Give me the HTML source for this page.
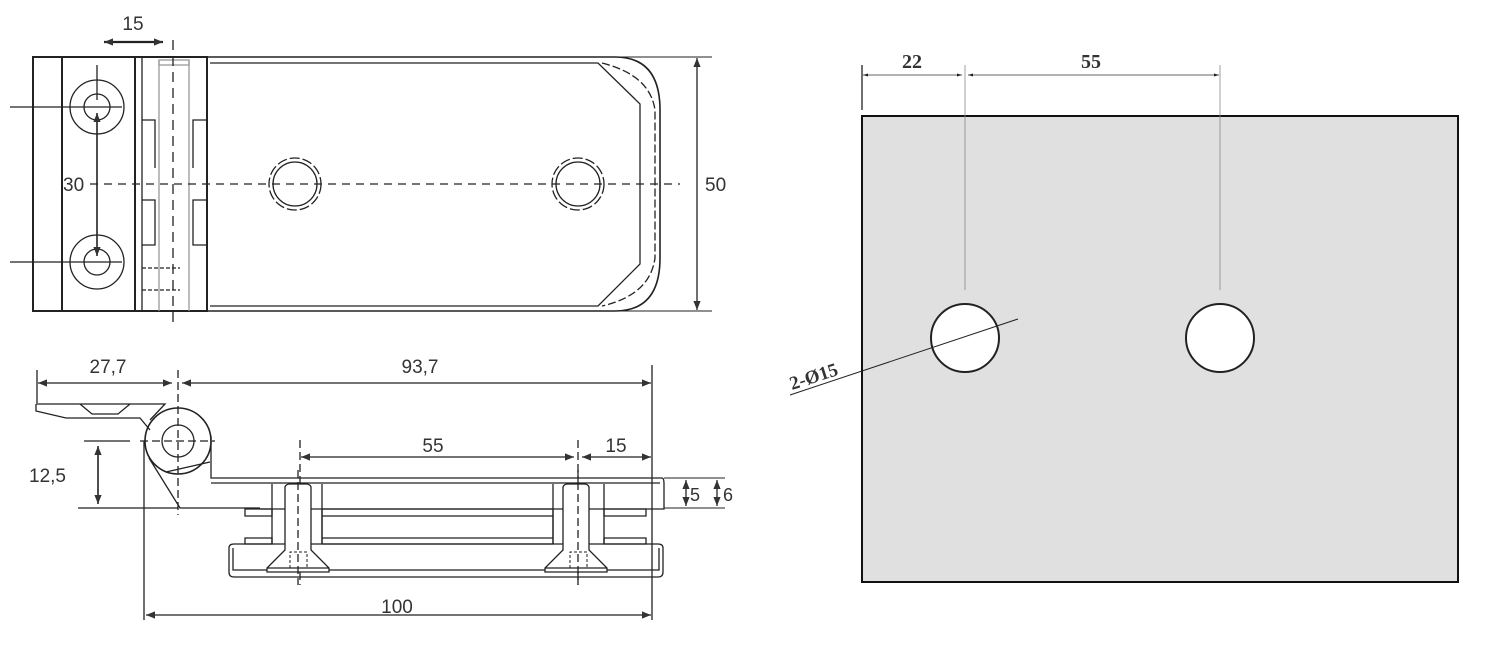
<!DOCTYPE html>
<html><head><meta charset="utf-8"><style>
html,body{margin:0;padding:0;background:#fff;}
svg{display:block;}
text{font-family:"Liberation Sans",sans-serif;fill:#333;}
</style></head><body>
<svg width="1503" height="672" viewBox="0 0 1503 672" xmlns="http://www.w3.org/2000/svg">
<defs>
<marker id="a" viewBox="0 0 10 10" refX="10" refY="5" markerWidth="9" markerHeight="9" orient="auto-start-reverse" markerUnits="userSpaceOnUse"><path d="M0,1 L10,5 L0,9 z" fill="#333"/></marker>
<marker id="s" viewBox="0 0 10 10" refX="10" refY="5" markerWidth="7" markerHeight="5" orient="auto-start-reverse" markerUnits="userSpaceOnUse"><path d="M0,2 L10,5 L0,8 z" fill="#222"/></marker>
</defs>
<g fill="none" stroke="#222" stroke-width="1.3">
<!-- TOP VIEW -->
<rect x="33" y="57" width="174" height="254" stroke-width="2"/>
<line x1="62" y1="57" x2="62" y2="311" stroke-width="2"/>
<line x1="135" y1="57" x2="135" y2="311" stroke-width="2"/>
<line x1="142" y1="57" x2="142" y2="311"/>
<line x1="159" y1="60" x2="159" y2="311" stroke="#999"/>
<line x1="189" y1="60" x2="189" y2="311" stroke="#999"/>
<rect x="159" y="60" width="30" height="5" stroke="#999"/>
<path d="M142,120 H155 V168 M142,200 H155 V245 H142"/>
<path d="M207,120 H193 V168 M207,200 H193 V245 H207"/>
<path d="M142,268 H180 M142,290 H180" stroke-dasharray="4 2"/>
<path d="M207,57 H615 Q660,57 660,110 V258 Q660,311 615,311 H207" stroke-width="1.6"/>
<path d="M210,63 H598 L640,104 V264 L598,306 H210"/>
<path d="M602,63 Q650,75 655,110 V258 Q650,295 602,306" stroke-dasharray="8 3"/>
<circle cx="97" cy="107" r="27"/><circle cx="97" cy="107" r="13"/>
<circle cx="97" cy="262" r="27"/><circle cx="97" cy="262" r="13"/>
<line x1="10" y1="107" x2="122" y2="107"/>
<line x1="10" y1="262" x2="122" y2="262"/>
<line x1="97" y1="65" x2="97" y2="100"/>
<line x1="97" y1="113" x2="97" y2="256" stroke-width="1.6" marker-start="url(#a)" marker-end="url(#a)"/>
<line x1="104" y1="42" x2="163" y2="42" stroke-width="2.2" marker-start="url(#a)" marker-end="url(#a)"/>
<line x1="173" y1="40" x2="173" y2="324" stroke-dasharray="10 6"/>
<line x1="90" y1="184" x2="680" y2="184" stroke-dasharray="8 6"/>
<circle cx="295" cy="184" r="26" stroke-dasharray="10 3"/><circle cx="295" cy="184" r="22"/>
<circle cx="578" cy="184" r="26" stroke-dasharray="10 3"/><circle cx="578" cy="184" r="22"/>
<line x1="620" y1="57" x2="712" y2="57" stroke-width="1"/>
<line x1="620" y1="311" x2="712" y2="311" stroke-width="1"/>
<line x1="697" y1="58" x2="697" y2="310" marker-start="url(#a)" marker-end="url(#a)"/>

<!-- SIDE VIEW -->
<line x1="37" y1="370" x2="37" y2="403"/>
<line x1="652" y1="365" x2="652" y2="620"/>
<line x1="38" y1="383" x2="172" y2="383" marker-start="url(#a)" marker-end="url(#a)"/>
<line x1="182" y1="383" x2="651" y2="383" marker-start="url(#a)" marker-end="url(#a)"/>
<path d="M36,404 H165 L150,420 M36,404 V411 L66,418 H140 L150,430" />
<path d="M80,404 L92,414 H118 L130,404 M92,414 H118"/>
<circle cx="178" cy="441" r="33" stroke-width="1.6"/>
<circle cx="178" cy="441" r="16"/>
<path d="M149,458 L180,508 H260 M211,436 V478 H662 Q664,478 664,484 V509 H260 M166,472 L210,462"/>
<line x1="178" y1="370" x2="178" y2="515" stroke-dasharray="8 4"/>
<line x1="140" y1="441" x2="215" y2="441" stroke-dasharray="8 4"/>
<line x1="211" y1="483" x2="660" y2="483"/>
<line x1="84" y1="441" x2="130" y2="441"/>
<line x1="78" y1="508" x2="178" y2="508"/>
<line x1="98" y1="446" x2="98" y2="504" stroke-width="1.6" marker-start="url(#a)" marker-end="url(#a)"/>
<line x1="144" y1="441" x2="144" y2="620"/>
<line x1="146" y1="615" x2="651" y2="615" marker-start="url(#a)" marker-end="url(#a)"/>
<line x1="300" y1="440" x2="300" y2="585" stroke-dasharray="8 4"/>
<line x1="578" y1="440" x2="578" y2="585" stroke-dasharray="8 4"/>
<line x1="301" y1="457" x2="574" y2="457" marker-start="url(#a)" marker-end="url(#a)"/>
<line x1="582" y1="457" x2="651" y2="457" marker-start="url(#a)" marker-end="url(#a)"/>
<line x1="664" y1="478" x2="725" y2="478" stroke-width="1"/>
<line x1="664" y1="508" x2="725" y2="508" stroke-width="1"/>
<line x1="686" y1="480" x2="686" y2="506" marker-start="url(#a)" marker-end="url(#a)"/>
<line x1="717" y1="480" x2="717" y2="506" marker-start="url(#a)" marker-end="url(#a)"/>
<!-- bars -->
<path d="M245,509 H272 V516 H245 z M245,538 H272 V544 H245 z"/>
<path d="M604,509 H646 V516 H604 z M604,538 H646 V544 H604 z"/>
<path d="M322,509 H553 M322,516 H553 M322,538 H553 M322,544 H553 M322,509 V544 M553,509 V544"/>
<path d="M272,484 V544 M322,484 V544 M553,484 V544 M604,484 V544"/>
<path d="M229,548 Q229,544 234,544 H658 Q663,544 663,548 V572 Q663,577 658,577 H234 Q229,577 229,572 z"/>
<path d="M233,548 V570 H659 V548"/>
<!-- screws -->
<path d="M285,487 Q286,484 290,484 H306 Q310,484 311,487 V550 L329,568 V572 H267 V568 L285,550 z" fill="#fff"/>
<line x1="267" y1="568" x2="329" y2="568"/>
<path d="M563,487 Q564,484 568,484 H584 Q588,484 589,487 V550 L607,568 V572 H545 V568 L563,550 z" fill="#fff"/>
<line x1="545" y1="568" x2="607" y2="568"/>
<line x1="298" y1="470" x2="298" y2="585" stroke-dasharray="8 4"/>
<line x1="578" y1="470" x2="578" y2="585" stroke-dasharray="8 4"/>
<path d="M290,568 V552 H307 V568 M570,568 V552 H587 V568" stroke-dasharray="3 2" stroke-width="1"/>
</g>
<text x="133" y="30" font-size="19" text-anchor="middle">15</text>
<text x="63" y="191" font-size="19">30</text>
<text x="705" y="191" font-size="19">50</text>
<text x="108" y="373" font-size="19" text-anchor="middle">27,7</text>
<text x="420" y="373" font-size="19" text-anchor="middle">93,7</text>
<text x="29" y="482" font-size="19">12,5</text>
<text x="433" y="452" font-size="19" text-anchor="middle">55</text>
<text x="616" y="452" font-size="19" text-anchor="middle">15</text>
<text x="690" y="501" font-size="18">5</text>
<text x="723" y="501" font-size="18">6</text>
<text x="397" y="613" font-size="19" text-anchor="middle">100</text>

<!-- RIGHT PANEL -->
<rect x="862" y="116" width="596" height="466" fill="#e0e0e0" stroke="#111" stroke-width="2"/>
<g stroke="#222" fill="none">
<line x1="862" y1="65" x2="862" y2="110" stroke-width="1.3"/>
<line x1="965" y1="65" x2="965" y2="290" stroke="#888" stroke-width="0.8"/>
<line x1="1220" y1="65" x2="1220" y2="290" stroke="#888" stroke-width="0.8"/>
<line x1="863" y1="75" x2="962" y2="75" stroke="#666" marker-start="url(#s)" marker-end="url(#s)"/>
<line x1="968" y1="75" x2="1219" y2="75" stroke="#666" marker-start="url(#s)" marker-end="url(#s)"/>
<circle cx="965" cy="338" r="34" fill="#fff" stroke-width="2"/>
<circle cx="1220" cy="338" r="34" fill="#fff" stroke-width="2"/>
<line x1="790" y1="395" x2="1018" y2="319" stroke-width="1"/>
</g>
<text x="912" y="68" font-size="20" text-anchor="middle" style="font-family:'Liberation Serif',serif;font-weight:bold">22</text>
<text x="1091" y="68" font-size="20" text-anchor="middle" style="font-family:'Liberation Serif',serif;font-weight:bold">55</text>
<text x="792" y="390" font-size="19" transform="rotate(-18 792 390)" style="font-family:'Liberation Serif',serif;font-weight:bold">2-Ø15</text>
</svg>
</body></html>
